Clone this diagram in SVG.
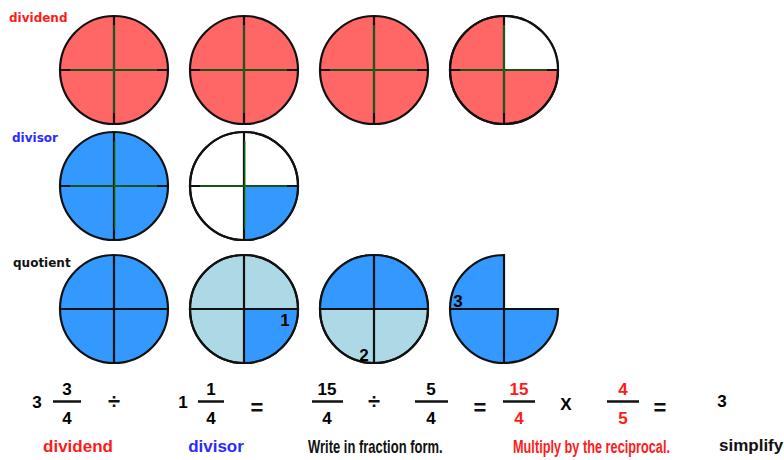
<svg xmlns="http://www.w3.org/2000/svg" width="784" height="460" viewBox="0 0 784 460">
<style>
.ol{stroke:#111;stroke-width:2.2;}
.ln{stroke:#111;stroke-width:2.2;fill:none;}
.gr{stroke:#1e9a1e;stroke-width:1.6;opacity:0.65;fill:none;}
.red{fill:#ff6666;}
.blue{fill:#3399ff;}
.lb{fill:#add8e6;}
.wh{fill:#ffffff;}
.lab{font-family:"DejaVu Sans",Verdana,sans-serif;font-weight:bold;font-size:12px;}
.num{font-family:"Liberation Sans",Arial,sans-serif;font-weight:bold;font-size:17px;text-anchor:middle;}
.op{font-family:"Liberation Sans",Arial,sans-serif;font-weight:bold;font-size:22px;text-anchor:middle;fill:#111;}
.bl{font-family:"Liberation Sans",Arial,sans-serif;font-weight:bold;font-size:17px;}
.bar{stroke:#111;stroke-width:2.5;}
.cap{font-family:"Liberation Sans",Arial,sans-serif;font-size:18px;font-weight:bold;}
</style>
<rect width="784" height="460" fill="#ffffff"/>
<text class="lab" x="9" y="22" fill="#ff1a1a">dividend</text>
<text class="lab" x="12" y="142" fill="#2a2aff">divisor</text>
<text class="lab" x="13" y="267" fill="#111">quotient</text>

<g id="dividend-1">
<circle cx="114" cy="70" r="54" class="red ol"/>
<path d="M60 70H168M114 16V124" class="ln"/>
<path d="M70 70H157M114 25V113" class="gr"/>
</g>
<g id="dividend-2">
<circle cx="244" cy="70" r="54" class="red ol"/>
<path d="M190 70H298M244 16V124" class="ln"/>
<path d="M200 70H287M244 25V113" class="gr"/>
</g>
<g id="dividend-3">
<circle cx="374" cy="70" r="54" class="red ol"/>
<path d="M320 70H428M374 16V124" class="ln"/>
<path d="M330 70H417M374 25V113" class="gr"/>
</g>
<g id="dividend-4">
<circle cx="504" cy="70" r="54" class="red ol"/>
<path d="M504 70V16A54 54 0 0 1 558 70Z" class="wh"/>
<circle cx="504" cy="70" r="54" class="ln"/>
<path d="M450 70H558M504 16V124" class="ln"/>
<path d="M460 70H547M504 25V113" class="gr"/>
</g>

<g id="divisor-1">
<circle cx="114" cy="186" r="54" class="blue ol"/>
<path d="M60 186H168M114 132V240" class="ln"/>
<path d="M70 186H157M115 141V229" class="gr"/>
</g>
<g id="divisor-2">
<circle cx="244" cy="186" r="54" class="wh ol"/>
<path d="M244 186H298A54 54 0 0 1 244 240Z" class="blue"/>
<circle cx="244" cy="186" r="54" class="ln"/>
<path d="M190 186H298M244 132V240" class="ln"/>
<path d="M200 186H287M245 141V229" class="gr"/>
</g>

<g id="quotient-1">
<circle cx="114" cy="309" r="54" class="blue ol"/>
<path d="M60 309H168M114 255V363" class="ln"/>
</g>
<g id="quotient-2">
<circle cx="244" cy="309" r="54" class="lb ol"/>
<path d="M244 309H298A54 54 0 0 1 244 363Z" class="blue"/>
<circle cx="244" cy="309" r="54" class="ln"/>
<path d="M190 309H298M244 255V363" class="ln"/>
<text x="285" y="326" class="num" font-size="15">1</text>
</g>
<g id="quotient-3">
<circle cx="374" cy="309" r="54" class="lb ol"/>
<path d="M320 309A54 54 0 0 1 428 309Z" class="blue"/>
<circle cx="374" cy="309" r="54" class="ln"/>
<path d="M320 309H428M374 255V363" class="ln"/>
<text x="364" y="361" class="num" font-size="15">2</text>
</g>
<g id="quotient-4">
<path d="M504 255A54 54 0 1 0 558 309H504Z" class="blue ol" stroke-linejoin="miter"/>
<path d="M450 309H504M504 309V363" class="ln"/>
<text x="458" y="307" class="num" font-size="15">3</text>
</g>

<g id="equation">
<text x="37" y="408" class="num" font-weight="normal" font-size="15">3</text>
<text x="67" y="395" class="num">3</text>
<line x1="53" y1="401.5" x2="81" y2="401.5" class="bar"/>
<text x="67" y="424" class="num">4</text>
<text x="114" y="409" class="op">÷</text>

<text x="183" y="408" class="num" font-weight="normal" font-size="15">1</text>
<text x="211" y="395" class="num">1</text>
<line x1="198" y1="401.5" x2="224" y2="401.5" class="bar"/>
<text x="211" y="424" class="num">4</text>
<text x="257" y="415" class="op">=</text>

<text x="327" y="395" class="num">15</text>
<line x1="312" y1="401.5" x2="343" y2="401.5" class="bar"/>
<text x="327" y="424" class="num">4</text>
<text x="374" y="409" class="op">÷</text>

<text x="431" y="395" class="num">5</text>
<line x1="415" y1="401.5" x2="448" y2="401.5" class="bar"/>
<text x="431" y="424" class="num">4</text>
<text x="480" y="415" class="op">=</text>

<text x="519" y="395" class="num" fill="#ff1a1a">15</text>
<line x1="503" y1="401.5" x2="535" y2="401.5" class="bar"/>
<text x="519" y="424" class="num" fill="#ff1a1a">4</text>
<text x="566" y="410" class="num" font-size="18">X</text>

<text x="623" y="395" class="num" fill="#ff1a1a">4</text>
<line x1="607" y1="401.5" x2="639" y2="401.5" class="bar"/>
<text x="623" y="424" class="num" fill="#ff1a1a">5</text>
<text x="660" y="415" class="op">=</text>

<text x="722" y="407" class="num" font-weight="normal" font-size="15">3</text>
</g>

<g id="captions">
<text x="78" y="452" class="bl" fill="#ff1a1a" text-anchor="middle">dividend</text>
<text x="216" y="452" class="bl" fill="#2a2aff" text-anchor="middle">divisor</text>
<text transform="translate(308 453) scale(0.72 1)" x="0" y="0" class="cap" fill="#111" textLength="187" lengthAdjust="spacingAndGlyphs">Write in fraction form.</text>
<text transform="translate(513 453) scale(0.707 1)" x="0" y="0" class="cap" fill="#ff1a1a" textLength="222" lengthAdjust="spacingAndGlyphs">Multiply by the reciprocal.</text>
<text x="719" y="451" class="bl" font-size="16.5" fill="#111">simplify</text>
</g>
</svg>
